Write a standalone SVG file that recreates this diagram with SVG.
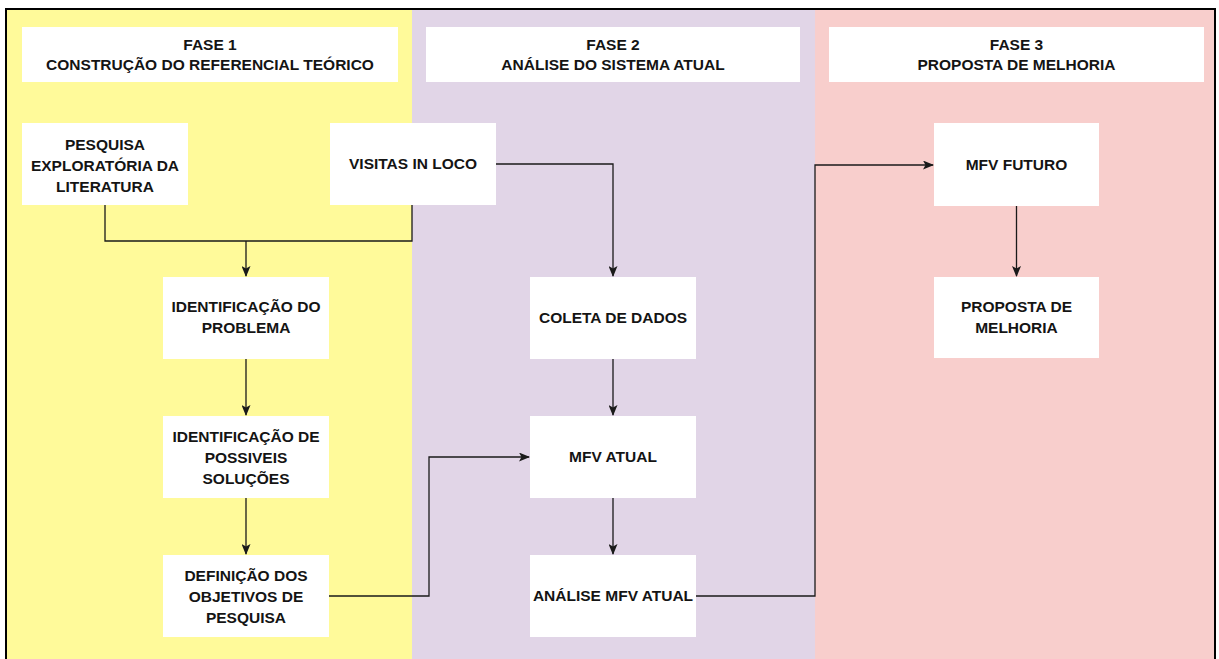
<svg xmlns="http://www.w3.org/2000/svg" width="1219" height="659" viewBox="0 0 1219 659">
<style>
.box{fill:#ffffff;stroke:none}
.t{font-family:"Liberation Sans",Arial,sans-serif;font-weight:bold;font-size:15.5px;fill:#141414;text-anchor:middle}
.c{fill:none;stroke:#1a1a1a;stroke-width:1.3}
</style>
<defs>
<marker id="arr" viewBox="0 0 11 9" refX="10" refY="4.5" markerWidth="11" markerHeight="9" markerUnits="userSpaceOnUse" orient="auto">
<path d="M0,0 L11,4.5 L0,9 L2.5,4.5 z" fill="#1a1a1a"/>
</marker>
</defs>
<rect x="0" y="0" width="1219" height="659" fill="#ffffff"/>
<g id="lanes">
<rect x="6" y="9" width="406" height="660" fill="#fffa9a"/>
<rect x="412" y="9" width="403" height="660" fill="#e1d5e7"/>
<rect x="815" y="9" width="400" height="660" fill="#f8cecc"/>
<rect x="6" y="9" width="1209" height="660" fill="none" stroke="#000000" stroke-width="2"/>
</g>
<g id="header1"><rect class="box" x="22" y="27" width="376" height="55"/><text class="t" x="210" y="50">FASE 1</text><text class="t" x="210" y="70">CONSTRUÇÃO DO REFERENCIAL TEÓRICO</text></g>
<g id="header2"><rect class="box" x="426" y="27" width="374" height="55"/><text class="t" x="613" y="50">FASE 2</text><text class="t" x="613" y="70">ANÁLISE DO SISTEMA ATUAL</text></g>
<g id="header3"><rect class="box" x="829" y="27" width="375" height="55"/><text class="t" x="1016.5" y="50">FASE 3</text><text class="t" x="1016.5" y="70">PROPOSTA DE MELHORIA</text></g>
<g id="connectors">
<path class="c" d="M105,205 V241 H412 V205"/>
<path class="c" d="M246,241 V276" marker-end="url(#arr)"/>
<path class="c" d="M246,359 V415" marker-end="url(#arr)"/>
<path class="c" d="M246,498 V554" marker-end="url(#arr)"/>
<path class="c" d="M329,596 H429 V457 H529" marker-end="url(#arr)"/>
<path class="c" d="M496,164 H613 V276" marker-end="url(#arr)"/>
<path class="c" d="M613,359 V415" marker-end="url(#arr)"/>
<path class="c" d="M613,498 V554" marker-end="url(#arr)"/>
<path class="c" d="M696,596 H815 V165 H933" marker-end="url(#arr)"/>
<path class="c" d="M1016.5,206 V276" marker-end="url(#arr)"/>
</g>
<g id="pesquisa"><rect class="box" x="22" y="123" width="166" height="82"/><text class="t" x="105" y="150">PESQUISA</text><text class="t" x="105" y="171">EXPLORATÓRIA DA</text><text class="t" x="105" y="192">LITERATURA</text></g>
<g id="visitas"><rect class="box" x="330" y="123" width="166" height="82"/><text class="t" x="413" y="169">VISITAS IN LOCO</text></g>
<g id="ident-problema"><rect class="box" x="163" y="277" width="166" height="82"/><text class="t" x="246" y="312">IDENTIFICAÇÃO DO</text><text class="t" x="246" y="333">PROBLEMA</text></g>
<g id="ident-solucoes"><rect class="box" x="163" y="416" width="166" height="82"/><text class="t" x="246" y="442">IDENTIFICAÇÃO DE</text><text class="t" x="246" y="463">POSSIVEIS</text><text class="t" x="246" y="484">SOLUÇÕES</text></g>
<g id="definicao"><rect class="box" x="163" y="555" width="166" height="82"/><text class="t" x="246" y="581">DEFINIÇÃO DOS</text><text class="t" x="246" y="602">OBJETIVOS DE</text><text class="t" x="246" y="623">PESQUISA</text></g>
<g id="coleta"><rect class="box" x="530" y="277" width="166" height="82"/><text class="t" x="613" y="323">COLETA DE DADOS</text></g>
<g id="mfv-atual"><rect class="box" x="530" y="416" width="166" height="82"/><text class="t" x="613" y="462">MFV ATUAL</text></g>
<g id="analise"><rect class="box" x="530" y="555" width="166" height="82"/><text class="t" x="613" y="601">ANÁLISE MFV ATUAL</text></g>
<g id="mfv-futuro"><rect class="box" x="934" y="123" width="165" height="83"/><text class="t" x="1016.5" y="170">MFV FUTURO</text></g>
<g id="proposta"><rect class="box" x="934" y="277" width="165" height="81"/><text class="t" x="1016.5" y="312">PROPOSTA DE</text><text class="t" x="1016.5" y="333">MELHORIA</text></g>
</svg>
